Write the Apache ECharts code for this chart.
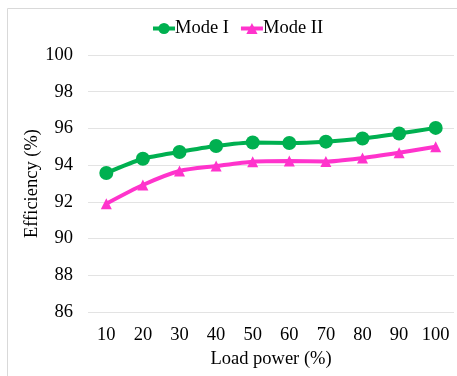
<!DOCTYPE html>
<html><head><meta charset="utf-8">
<script src="https://cdn.jsdelivr.net/npm/echarts@6/dist/echarts.min.js"></script>
<style>html,body{margin:0;padding:0;background:#fff}#c{width:457px;height:376px}</style>
</head><body><div id="c"></div>
<script>
const categories = ['10','20','30','40','50','60','70','80','90','100'];
const modeI = [93.57, 94.35, 94.72, 95.04, 95.23, 95.21, 95.28, 95.45, 95.72, 96.03];
const modeII = [91.9, 92.92, 93.68, 93.95, 94.19, 94.22, 94.2, 94.39, 94.68, 95.0];
const yMin = 86, yMax = 100, yStep = 2;
const F = '"Liberation Serif", "Times New Roman", serif';
const FS = 18.5;
const chart = echarts.init(document.getElementById('c'), null, {renderer:'canvas'});
chart.setOption({
  animation:false,
  textStyle:{fontFamily:F},
  graphic:[
    {type:'line', shape:{x1:7.5,y1:8.5,x2:457,y2:8.5}, style:{stroke:'#d9d9d9',lineWidth:1}},
    {type:'line', shape:{x1:7.5,y1:8.5,x2:7.5,y2:376}, style:{stroke:'#d9d9d9',lineWidth:1}}
  ],
  legend:{
    top:14, left:146, itemGap:10, itemWidth:22, itemHeight:14,
    lineStyle:{width:4},
    textStyle:{fontFamily:F,fontSize:FS,color:'#000',padding:[0,0,0,-5]},
    data:['Mode I','Mode II']
  },
  grid:{left:88,right:3,top:55,bottom:64},
  xAxis:{
    type:'category', data:categories, boundaryGap:true,
    name:'Load power (%)', nameLocation:'middle', nameGap:37,
    nameTextStyle:{fontFamily:F,fontSize:FS,color:'#000'},
    axisLine:{show:false}, axisTick:{show:false},
    axisLabel:{fontFamily:F,fontSize:FS,color:'#000',margin:14}
  },
  yAxis:{
    type:'value', min:yMin, max:yMax, interval:yStep,
    name:'Efficiency (%)', nameLocation:'middle', nameGap:46, nameRotate:90,
    nameMoveOverlap:false,
    nameTextStyle:{fontFamily:F,fontSize:FS,color:'#000'},
    axisLine:{show:false}, axisTick:{show:false},
    axisLabel:{fontFamily:F,fontSize:FS,color:'#000',margin:15},
    splitLine:{lineStyle:{color:'#e3e3e3',width:1}}
  },
  series:[
    {name:'Mode I', type:'line', data:modeI, smooth:0.25, symbol:'circle', symbolSize:14,
     itemStyle:{color:'#00B050'}, lineStyle:{color:'#00B050',width:4}},
    {name:'Mode II', type:'line', data:modeII, smooth:0.25, symbol:'triangle', symbolSize:11,
     itemStyle:{color:'#FF33CC'}, lineStyle:{color:'#FF33CC',width:4}}
  ]
});
</script></body></html>
